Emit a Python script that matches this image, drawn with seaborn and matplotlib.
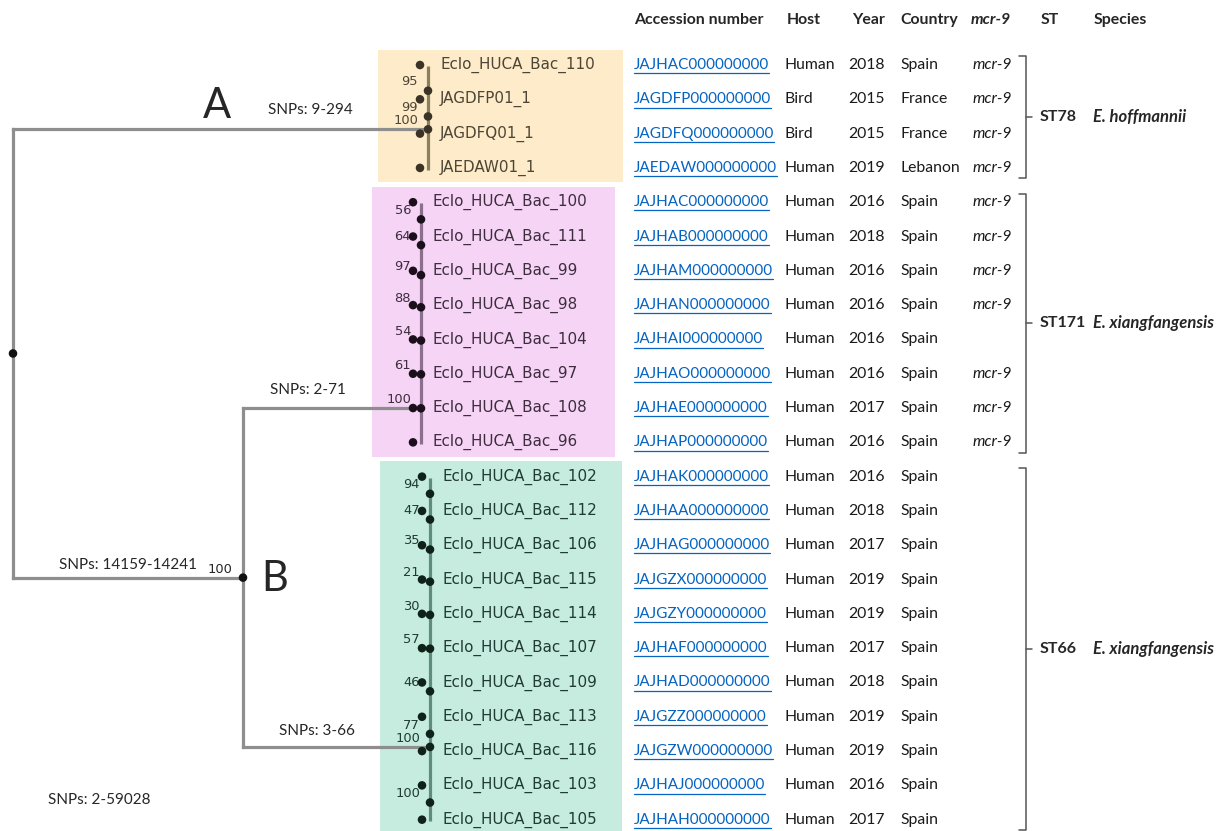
import matplotlib
matplotlib.use("Agg")
import matplotlib.pyplot as plt
import matplotlib.patches as mpatches
import seaborn as sns
import pandas as pd

# tree clades: leaves are strings, inner nodes are (child, child, bootstrap)
clade_st78 = (("Eclo_HUCA_Bac_110", ("JAGDFP01_1", "JAGDFQ01_1", 99), 95), "JAEDAW01_1", 100)
clade_st171 = (((((((("Eclo_HUCA_Bac_100", "Eclo_HUCA_Bac_111", 56), "Eclo_HUCA_Bac_99", 64),
                    "Eclo_HUCA_Bac_98", 97), "Eclo_HUCA_Bac_104", 88), "Eclo_HUCA_Bac_97", 54),
                 "Eclo_HUCA_Bac_108", 61), "Eclo_HUCA_Bac_96", 100))
clade_st66 = (((((((("Eclo_HUCA_Bac_102", "Eclo_HUCA_Bac_112", 94), "Eclo_HUCA_Bac_106", 47),
                    "Eclo_HUCA_Bac_115", 35), "Eclo_HUCA_Bac_114", 21), "Eclo_HUCA_Bac_107", 30),
                 "Eclo_HUCA_Bac_109", 57), ("Eclo_HUCA_Bac_113", "Eclo_HUCA_Bac_116", 77), 46),
              ("Eclo_HUCA_Bac_103", "Eclo_HUCA_Bac_105", 100), 100)
support_B = 100

snps_A = "SNPs: 9-294"
snps_B = "SNPs: 14159-14241"
snps_st171 = "SNPs: 2-71"
snps_st66 = "SNPs: 3-66"
snps_all = "SNPs: 2-59028"

# table
accession = ["JAJHAC000000000", "JAGDFP000000000", "JAGDFQ000000000", "JAEDAW000000000",
             "JAJHAC000000000", "JAJHAB000000000", "JAJHAM000000000", "JAJHAN000000000",
             "JAJHAI000000000", "JAJHAO000000000", "JAJHAE000000000", "JAJHAP000000000",
             "JAJHAK000000000", "JAJHAA000000000", "JAJHAG000000000", "JAJGZX000000000",
             "JAJGZY000000000", "JAJHAF000000000", "JAJHAD000000000", "JAJGZZ000000000",
             "JAJGZW000000000", "JAJHAJ000000000", "JAJHAH000000000"]
host = ["Human", "Bird", "Bird", "Human"] + ["Human"] * 19
year = [2018, 2015, 2015, 2019, 2016, 2018, 2016, 2016, 2016, 2016, 2017, 2016,
        2016, 2018, 2017, 2019, 2019, 2017, 2018, 2019, 2019, 2016, 2017]
country = ["Spain", "France", "France", "Lebanon"] + ["Spain"] * 19
mcr9 = [1, 1, 1, 1, 1, 1, 1, 1, 0, 1, 1, 1] + [0] * 11
st_groups = ["ST78", "ST171", "ST66"]
species = ["E. hoffmannii", "E. xiangfangensis", "E. xiangfangensis"]
headers = ["Accession number", "Host", "Year", "Country", "mcr-9", "ST", "Species"]

clades = [clade_st78, clade_st171, clade_st66]
clade_x = [428, 421, 430]
box_x = [(378, 623), (372, 615), (380, 622)]
box_col = ["#fdebc9", "#f5d4f5", "#c6ece0"]
line_col = ["#8c7f5e", "#8c6f8c", "#5f8c7d"]
dot_col = ["#3b3426", "#1c0f1c", "#0f2219"]
text_col = ["#4d4535", "#3d2d3d", "#1f3b33"]
TABLE_FONT = ["Lato", "DejaVu Sans"]


def layout(node, leaves, inner, start):
    if isinstance(node, str):
        leaves.append((node, start + len(leaves)))
        return leaves[-1][1]
    a = layout(node[0], leaves, inner, start)
    b = layout(node[1], leaves, inner, start)
    y = (a + b) / 2
    inner.append((y, node[2]))
    return y


sns.set_theme(style="white")
plt.rcParams["font.family"] = ["DejaVu Sans"]

fig = plt.figure(figsize=(12.3, 8.31), dpi=100)
ax = fig.add_axes([0, 0, 1, 1])

dots = []
roots = []
spans = []
start = 0
for i, clade in enumerate(clades):
    leaves, inner = [], []
    r = layout(clade, leaves, inner, start)
    roots.append(r)
    first, last = leaves[0][1], leaves[-1][1]
    spans.append((first, last))
    start = last + 1
    x0 = clade_x[i]
    ax.add_patch(mpatches.Rectangle((box_x[i][0], first - 0.45), box_x[i][1] - box_x[i][0],
                                    last - first + 0.87, color=box_col[i], lw=0, zorder=0))
    ax.plot([x0, x0], [first + 0.03, last + 0.05], color=line_col[i], lw=2.3, zorder=3,
            solid_capstyle="butt")
    for name, row in leaves:
        dots.append((x0 - 8, row, i))
        ax.text(x0 + 12 if i != 1 else x0 + 11, row, name, fontsize=10.9, color=text_col[i],
                va="center", ha="left", zorder=4)
    for row, sup in inner:
        dots.append((x0, row, i))
        ax.text(x0 - 10, row - 0.26, str(sup), fontsize=9.4, color=text_col[i],
                va="center", ha="right", zorder=4)

# backbone
root_x, b_x = 13, 243
y_A = roots[0]
y_B = (roots[1] + roots[2]) / 2
y_root = (y_A + y_B) / 2
gray = "#8e8e8e"
seg = dict(color=gray, lw=2.3, zorder=2, solid_capstyle="projecting")
ax.plot([root_x, root_x], [y_A, y_B], **seg)
ax.plot([root_x, clade_x[0]], [y_A, y_A], **seg)
ax.plot([root_x, b_x], [y_B, y_B], **seg)
ax.plot([b_x, b_x], [roots[1], roots[2]], **seg)
ax.plot([b_x, clade_x[1]], [roots[1], roots[1]], **seg)
ax.plot([b_x, clade_x[2]], [roots[2], roots[2]], **seg)
dots.append((root_x, y_root, 3))
dots.append((b_x, y_B, 3))

dot_df = pd.DataFrame(dots, columns=["x", "row", "group"])
sns.scatterplot(data=dot_df, x="x", y="row", hue="group",
                palette={0: dot_col[0], 1: dot_col[1], 2: dot_col[2], 3: "#111111"},
                s=38, edgecolor="none", legend=False, ax=ax, zorder=5)

# branch annotations
ax.text(217, y_A - 0.67, "A", fontsize=30, ha="center", va="center", family=TABLE_FONT)
ax.text(275, y_B + 0.05, "B", fontsize=30, ha="center", va="center", family=TABLE_FONT)
ax.text(268, y_A - 0.55, snps_A, fontsize=11, va="center", family=TABLE_FONT)
ax.text(270, roots[1] - 0.53, snps_st171, fontsize=11, va="center", family=TABLE_FONT)
ax.text(59, y_B - 0.37, snps_B, fontsize=11, va="center", family=TABLE_FONT)
ax.text(232, y_B - 0.25, str(support_B), fontsize=9.4, va="center", ha="right")
ax.text(279, roots[2] - 0.46, snps_st66, fontsize=11, va="center", family=TABLE_FONT)
ax.text(48, 21.43, snps_all, fontsize=11, va="center", family=TABLE_FONT)

# table
head_y = -1.31
head_x = [634, 787, 852, 900, 1011, 1041, 1094]
for hx, h in zip(head_x, headers):
    ax.text(hx, head_y, h, fontsize=11.4, fontweight="bold", va="center",
            ha="right" if h == "mcr-9" else "left",
            style="italic" if h == "mcr-9" else "normal", family=TABLE_FONT)

acc_texts = []
for r in range(len(accession)):
    acc_texts.append(ax.text(634, r, accession[r], fontsize=11, color="#0563c1",
                             va="center", family=TABLE_FONT))
    ax.text(785, r, host[r], fontsize=11.3, va="center", family=TABLE_FONT, color="#1a1a1a")
    ax.text(848, r, str(year[r]), fontsize=11.3, va="center", family=TABLE_FONT, color="#1a1a1a")
    ax.text(900, r, country[r], fontsize=11.3, va="center", family=TABLE_FONT, color="#1a1a1a")
    if mcr9[r]:
        ax.text(1012, r, "mcr-9", fontsize=11.3, va="center", ha="right", style="italic",
                family=TABLE_FONT, color="#1a1a1a")

# ST brackets
for g, (first, last) in enumerate(spans):
    top, bot = first - 0.25, last + 0.3
    mid = (top + bot) / 2
    bc = "#555555"
    ax.plot([1019, 1026, 1026, 1019], [top, top, bot, bot], color=bc, lw=1.1, zorder=3)
    ax.plot([1026, 1032], [mid, mid], color=bc, lw=1.1, zorder=3)
    ax.text(1040, mid, st_groups[g], fontsize=11.5, fontweight="bold", va="center",
            family=TABLE_FONT)
    ax.text(1093, mid, species[g], fontsize=12, fontweight="bold", style="italic",
            va="center", family=TABLE_FONT)

ax.set_xlim(0, 1230)
ax.set_ylim(22.33, -1.895)
ax.axis("off")

# underline the accession links
fig.canvas.draw()
inv = ax.transData.inverted()
for r, t in enumerate(acc_texts):
    bb = t.get_window_extent()
    xa, _ = inv.transform((bb.x0, 0))
    xb, _ = inv.transform((bb.x1, 0))
    ax.plot([xa, xb], [r + 0.24, r + 0.24], color="#0563c1", lw=0.9, zorder=3)

fig.savefig("out.png", dpi=100)
